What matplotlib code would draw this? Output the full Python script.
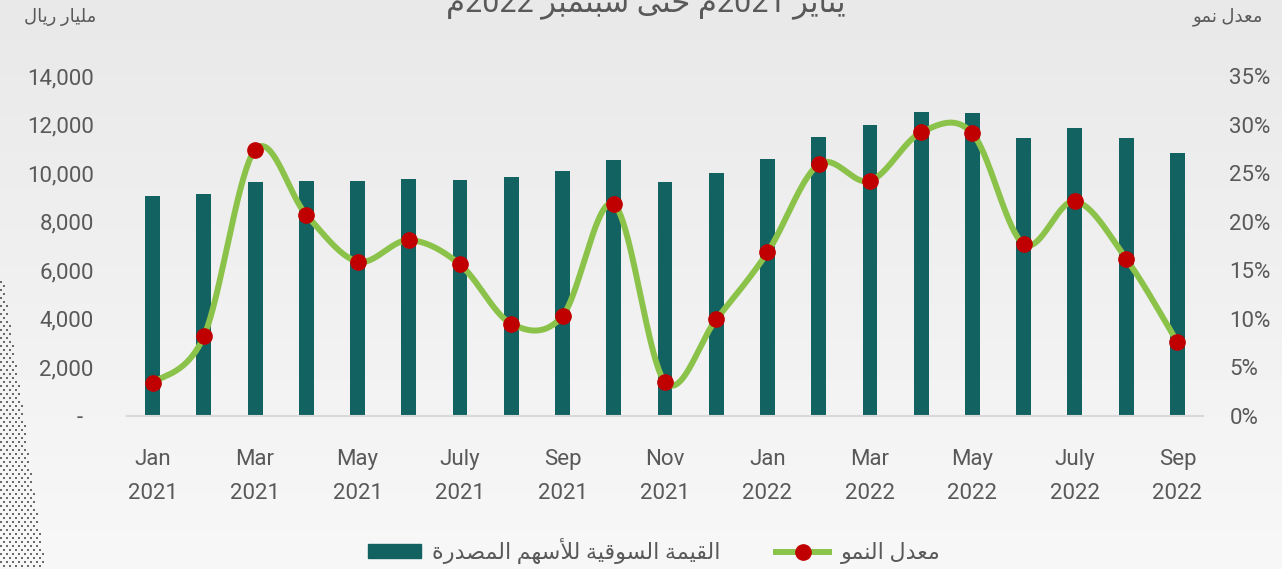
import re
import numpy as np
import matplotlib
matplotlib.use('Agg')
import matplotlib.pyplot as plt
from matplotlib.patches import Rectangle
from matplotlib.lines import Line2D

# البيانات: القيمة السوقية (مليار ريال) ومعدل النمو (%)
months = ['Jan 2021', 'Feb 2021', 'Mar 2021', 'Apr 2021', 'May 2021', 'Jun 2021', 'July 2021',
          'Aug 2021', 'Sep 2021', 'Oct 2021', 'Nov 2021', 'Dec 2021', 'Jan 2022', 'Feb 2022',
          'Mar 2022', 'Apr 2022', 'May 2022', 'Jun 2022', 'July 2022', 'Aug 2022', 'Sep 2022']
market_value = [9060, 9130, 9630, 9660, 9660, 9740, 9700, 9840, 10070, 10530, 9630,
                10020, 10600, 11490, 11970, 12500, 12470, 11460, 11840, 11430, 10840]
growth = [3.4, 8.2, 27.4, 20.7, 15.9, 18.1, 15.6, 9.5, 10.3, 21.8, 3.5,
          9.95, 16.85, 25.9, 24.2, 29.2, 29.1, 17.7, 22.1, 16.2, 7.6]
left_ticks = [0, 2000, 4000, 6000, 8000, 10000, 12000, 14000]
right_ticks = [0, 5, 10, 15, 20, 25, 30, 35]

title = 'يناير 2021م حتى سبتمبر 2022م'
left_unit = 'مليار ريال'
right_unit = 'معدل نمو'
bar_label = 'القيمة السوقية للأسهم المصدرة'
line_label = 'معدل النمو'

BAR_COLOR = '#136262'
LINE_COLOR = '#8bc34a'
DOT_COLOR = '#c00000'
TEXT_COLOR = '#595959'

# تشكيل الحروف العربية يدويا (matplotlib لا يدعم الربط ولا الاتجاه من اليمين)
FORMS = {
    'ا': ('\uFE8D', '\uFE8E', None, None),
    'أ': ('\uFE83', '\uFE84', None, None),
    'ب': ('\uFE8F', '\uFE90', '\uFE91', '\uFE92'),
    'ت': ('\uFE95', '\uFE96', '\uFE97', '\uFE98'),
    'ة': ('\uFE93', '\uFE94', None, None),
    'ح': ('\uFEA1', '\uFEA2', '\uFEA3', '\uFEA4'),
    'د': ('\uFEA9', '\uFEAA', None, None),
    'ر': ('\uFEAD', '\uFEAE', None, None),
    'س': ('\uFEB1', '\uFEB2', '\uFEB3', '\uFEB4'),
    'ص': ('\uFEB9', '\uFEBA', '\uFEBB', '\uFEBC'),
    'ع': ('\uFEC9', '\uFECA', '\uFECB', '\uFECC'),
    'ق': ('\uFED5', '\uFED6', '\uFED7', '\uFED8'),
    'ل': ('\uFEDD', '\uFEDE', '\uFEDF', '\uFEE0'),
    'م': ('\uFEE1', '\uFEE2', '\uFEE3', '\uFEE4'),
    'ن': ('\uFEE5', '\uFEE6', '\uFEE7', '\uFEE8'),
    'ه': ('\uFEE9', '\uFEEA', '\uFEEB', '\uFEEC'),
    'و': ('\uFEED', '\uFEEE', None, None),
    'ى': ('\uFEEF', '\uFEF0', None, None),
    'ي': ('\uFEF1', '\uFEF2', '\uFEF3', '\uFEF4'),
}
LAM_ALEF = {'ا': ('\uFEFB', '\uFEFC'), 'أ': ('\uFEF7', '\uFEF8')}


def ar(text):
    units = []
    i = 0
    while i < len(text):
        if text[i] == 'ل' and i + 1 < len(text) and text[i + 1] in LAM_ALEF:
            units.append(('LA', text[i + 1]))
            i += 2
        else:
            units.append(('C', text[i]))
            i += 1

    def joins_fwd(u):
        return u is not None and u[0] == 'C' and u[1] in FORMS and FORMS[u[1]][2] is not None

    def is_ar(u):
        return u is not None and (u[0] == 'LA' or u[1] in FORMS)

    out = []
    for k, (kind, c) in enumerate(units):
        prev = units[k - 1] if k > 0 else None
        nxt = units[k + 1] if k + 1 < len(units) else None
        jp = joins_fwd(prev)
        if kind == 'LA':
            out.append(LAM_ALEF[c][1 if jp else 0])
            continue
        if c not in FORMS:
            out.append(c)
            continue
        f = FORMS[c]
        jn = f[2] is not None and is_ar(nxt)
        if jp and jn:
            out.append(f[3])
        elif jp:
            out.append(f[1])
        elif jn:
            out.append(f[2])
        else:
            out.append(f[0])
    vis = ''.join(out)[::-1]
    return re.sub(r'[0-9]+', lambda m: m.group(0)[::-1], vis)


# منحنى ناعم مثل Excel (Catmull-Rom عبر نقاط Bezier)
def smooth(xs, ys, n=40):
    p = np.column_stack([xs, ys]).astype(float)
    p = np.vstack([p[0], p, p[-1]])
    t = np.linspace(0, 1, n)[:, None]
    segs = []
    for i in range(1, len(p) - 2):
        b0 = p[i]
        b1 = p[i] + (p[i + 1] - p[i - 1]) / 6
        b2 = p[i + 1] - (p[i + 2] - p[i]) / 6
        b3 = p[i + 1]
        segs.append((1 - t) ** 3 * b0 + 3 * (1 - t) ** 2 * t * b1 + 3 * (1 - t) * t ** 2 * b2 + t ** 3 * b3)
    c = np.vstack(segs)
    return c[:, 0], c[:, 1]


plt.rcParams['font.family'] = ['Roboto', 'DejaVu Sans']

W, H = 1282, 569
fig = plt.figure(figsize=(W / 100, H / 100), dpi=100)

# خلفية متدرجة + نقاط زخرفية
bg = fig.add_axes([0, 0, 1, 1], zorder=-10)
grad = np.linspace(233, 248, 256)[:, None] / 255
bg.imshow(np.dstack([grad, grad, grad]), aspect='auto', extent=[0, W, H, 0])
dx, dy = [], []
for row, yy in enumerate(range(282, H, 4)):
    wid = 4 + (yy - 282) / (H - 282) * 42
    xx = 1 + (3 if row % 2 else 0)
    while xx < wid:
        dx.append(xx)
        dy.append(yy)
        xx += 6
bg.scatter(dx, dy, s=2.2, marker='s', color='#6a6a6a', linewidths=0)
bg.set_xlim(0, W)
bg.set_ylim(H, 0)
bg.axis('off')

ax = fig.add_axes([127 / W, 1 - 416 / H, (1203 - 127) / W, (416 - 76) / H])
ax.set_facecolor('none')
x = np.arange(len(months))
ax.bar(x, market_value, width=0.29, color=BAR_COLOR, zorder=2)
ax.set_xlim(-0.5, len(months) - 0.5)
ax.set_ylim(0, 14000)
ax.set_yticks(left_ticks)
ax.set_yticklabels(['-  ' if v == 0 else f'{v:,}' for v in left_ticks])
tick_pos = x[::2]
ax.set_xticks(tick_pos)
ax.set_xticklabels([months[i].replace(' ', '\n') for i in tick_pos], linespacing=1.8)
for s in ['top', 'left', 'right']:
    ax.spines[s].set_visible(False)
ax.spines['bottom'].set_color('#d9d9d9')
ax.spines['bottom'].set_linewidth(1.5)
ax.tick_params(axis='both', length=0, labelsize=16, colors=TEXT_COLOR)
ax.tick_params(axis='y', pad=24)
ax.tick_params(axis='x', pad=24)

ax2 = ax.twinx()
ax2.set_ylim(0, 35)
ax2.set_yticks(right_ticks)
ax2.set_yticklabels([f'{v}%' for v in right_ticks])
for s in ax2.spines.values():
    s.set_visible(False)
ax2.tick_params(axis='y', length=0, labelsize=16, colors=TEXT_COLOR, pad=19)
sx, sy = smooth(x, growth)
ax2.plot(sx, sy, color=LINE_COLOR, lw=4.3, solid_capstyle='round', zorder=3)
ax2.plot(x, growth, 'o', color=DOT_COLOR, markersize=11, zorder=4)

# نصوص
fig.text(646 / W, 1 - 19 / H, ar(title), ha='center', va='bottom', fontsize=22, color=TEXT_COLOR)
fig.text(60 / W, 1 - 17 / H, ar(left_unit), ha='center', va='center', fontsize=13, color=TEXT_COLOR)
fig.text(1228 / W, 1 - 17 / H, ar(right_unit), ha='center', va='center', fontsize=13, color=TEXT_COLOR)

handles = [Rectangle((0, 0), 1, 1, color=BAR_COLOR),
           Line2D([], [], color=LINE_COLOR, lw=4.3, marker='o', markersize=11,
                  markerfacecolor=DOT_COLOR, markeredgecolor=DOT_COLOR)]
fig.legend(handles, [ar(bar_label), ar(line_label)], loc='center', bbox_to_anchor=(654 / W, 1 - 551 / H),
           ncol=2, frameon=False, fontsize=16, labelcolor=TEXT_COLOR, handlelength=2.4,
           handleheight=0.6, columnspacing=2.5, handletextpad=0.5)

fig.savefig('out.png', dpi=100)
